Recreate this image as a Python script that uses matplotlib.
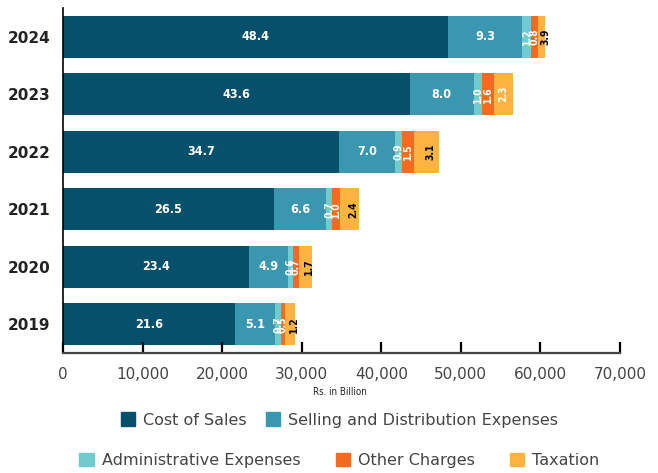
import matplotlib
matplotlib.use('Agg')
import matplotlib.pyplot as plt
from matplotlib.patches import Patch

years = ['2024', '2023', '2022', '2021', '2020', '2019']
series = ['Cost of Sales', 'Selling and Distribution Expenses',
          'Administrative Expenses', 'Other Charges', 'Taxation']
# values in Rs. million (axis scale), as drawn
cost_of_sales = [48400, 43600, 34700, 26500, 23400, 21600]
selling = [9300, 8000, 7000, 6600, 4900, 5100]
admin = [1100, 1000, 900, 700, 600, 700]
other = [900, 1600, 1500, 1000, 700, 500]
taxation = [900, 2300, 3100, 2400, 1700, 1200]
# labels printed on the segments (Rs. billion)
cost_labels = ['48.4', '43.6', '34.7', '26.5', '23.4', '21.6']
selling_labels = ['9.3', '8.0', '7.0', '6.6', '4.9', '5.1']
admin_labels = ['1.2', '1.0', '0.9', '0.7', '0.6', '0.7']
other_labels = ['0.8', '1.6', '1.5', '1.0', '0.7', '0.5']
tax_labels = ['3.9', '2.3', '3.1', '2.4', '1.7', '1.2']
tax_label_colors = ['black', 'white', 'black', 'black', 'black', 'black']

colors = ['#07506b', '#3b97b0', '#70cccc', '#f26b21', '#fcb33f']
values = [cost_of_sales, selling, admin, other, taxation]
labels = [cost_labels, selling_labels, admin_labels, other_labels, tax_labels]

fig = plt.figure(figsize=(6.58, 4.73), dpi=100)
ax = fig.add_axes([0.0957, 0.2537, 0.8465, 0.7294])

ypos = list(range(len(years)))
left = [0] * len(years)
for k, (vals, lab) in enumerate(zip(values, labels)):
    ax.barh(ypos, vals, left=left, height=0.73, color=colors[k], label=series[k])
    for i, v in enumerate(vals):
        cx = left[i] + v / 2
        if k < 2:
            ax.text(cx, i, lab[i], ha='center', va='center', color='white',
                    fontsize=9, fontweight='bold', fontstretch='condensed')
        else:
            col = tax_label_colors[i] if k == 4 else 'white'
            dx = 3 if col == 'black' else 0
            ax.annotate(lab[i], (cx, i), xytext=(dx, 0), textcoords='offset points',
                        ha='center', va='center', color=col, fontsize=7.5,
                        fontweight='bold', fontstretch='condensed', rotation=90)
    left = [a + b for a, b in zip(left, vals)]

ax.set_ylim(len(years) - 0.5, -0.5)
ax.set_xlim(0, 70000)
ax.set_yticks(ypos)
ax.set_yticklabels(years, fontsize=11, fontweight='bold', color='#222222')
ax.tick_params(axis='y', length=0, pad=9)
ax.set_xticks(range(0, 70001, 10000))
ax.set_xticklabels([f'{t:,}' for t in range(0, 70001, 10000)])
ax.tick_params(axis='x', direction='in', length=8, width=1.6, color='black',
               labelsize=11, labelcolor='#444444', pad=10)
for s in ['top', 'right']:
    ax.spines[s].set_visible(False)
ax.spines['left'].set_linewidth(1.2)
ax.spines['bottom'].set_linewidth(1.6)
ax.spines['bottom'].set_color('#444444')

fig.text(0.517, 0.172, 'Rs. in Billion', ha='center', va='center',
         fontsize=7, color='#222222', fontstretch='condensed')

h = [Patch(color=c) for c in colors]
fig.legend(h[:2], series[:2], loc='center', bbox_to_anchor=(0.516, 0.112), ncol=2,
           frameon=False, fontsize=11.5, labelcolor='#444444', handlelength=0.9,
           handleheight=0.9, handletextpad=0.5, columnspacing=1.2)
fig.legend(h[2:], series[2:], loc='center', bbox_to_anchor=(0.516, 0.027), ncol=3,
           frameon=False, fontsize=11.5, labelcolor='#444444', handlelength=0.9,
           handleheight=0.9, handletextpad=0.5, columnspacing=2.2)

fig.savefig('out.png', dpi=100)
